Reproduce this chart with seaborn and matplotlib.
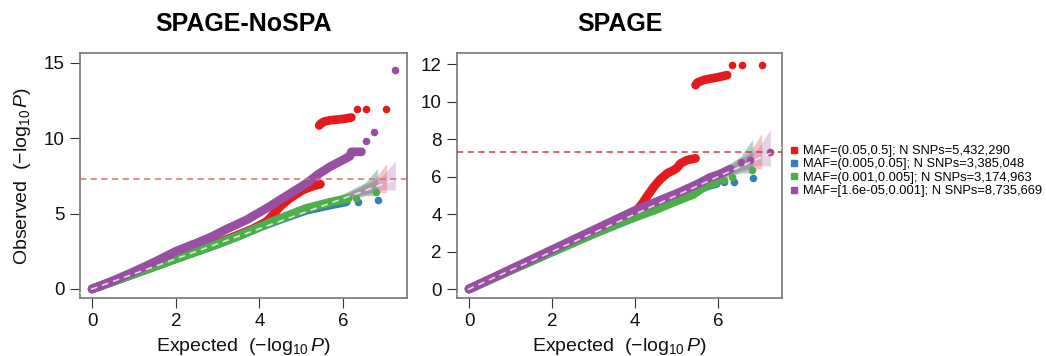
import matplotlib
matplotlib.use('Agg')
import matplotlib.pyplot as plt
from matplotlib.lines import Line2D
import pandas as pd
import seaborn as sns

# legend labels and colours (R Set1 style)
groups = ['MAF=(0.05,0.5]; N SNPs=5,432,290',
          'MAF=(0.005,0.05]; N SNPs=3,385,048',
          'MAF=(0.001,0.005]; N SNPs=3,174,963',
          'MAF=[1.6e-05,0.001]; N SNPs=8,735,669']
colors = ['#E41A1C', '#377EB8', '#4DAF4A', '#984EA3']
titles = ['SPAGE-NoSPA', 'SPAGE']
gw_line = 7.3  # -log10(5e-8)

# ---- SPAGE-NoSPA : dense part of the QQ curves (expected, observed)
nospa_red_x = [0, 1, 2, 3, 3.5, 3.85, 4.17, 4.35, 4.49, 4.73, 5.04, 5.25, 5.46]
nospa_red_y = [0, 1.0, 2.02, 3.05, 3.6, 4.0, 4.47, 5.0, 5.46, 6.02, 6.57, 6.8, 6.95]
nospa_red2_x = [5.43, 5.48, 5.56, 5.7, 5.9, 6.05, 6.2]
nospa_red2_y = [10.85, 11.0, 11.12, 11.2, 11.25, 11.3, 11.38]
nospa_blue_x = [0, 1, 2, 3, 3.53, 4, 4.5, 5.12, 5.5, 5.84, 6.08]
nospa_blue_y = [0, 1.0, 2.0, 2.98, 3.55, 4.1, 4.62, 5.22, 5.45, 5.65, 5.78]
nospa_green_x = [0, 1, 2, 3, 3.53, 4.33, 5.12, 5.68, 6.12]
nospa_green_y = [0, 1.0, 2.0, 2.98, 3.55, 4.5, 5.35, 5.75, 6.0]
nospa_purple_x = [0, 0.5, 1, 1.5, 2, 2.5, 2.86, 3.2, 3.69, 4.2, 4.6, 5.12, 5.4, 5.68, 5.92, 6.16, 6.2, 6.44]
nospa_purple_y = [0, 0.55, 1.15, 1.8, 2.5, 3.05, 3.47, 3.95, 4.58, 5.4, 6.1, 7.0, 7.6, 8.1, 8.45, 8.8, 9.1, 9.1]
# sparse tail points
nospa_red_dots_x = [6.33, 6.56, 7.03]
nospa_red_dots_y = [11.92, 11.92, 11.92]
nospa_blue_dots_x = [6.36, 6.83]
nospa_blue_dots_y = [5.75, 5.9]
nospa_green_dots_x = [6.32, 6.79]
nospa_green_dots_y = [6.05, 6.42]
nospa_purple_dots_x = [6.54, 6.75, 7.24]
nospa_purple_dots_y = [9.85, 10.4, 14.5]

# ---- SPAGE
spage_red_x = [0, 1, 2, 3, 4.0, 4.17, 4.3, 4.45, 4.6, 4.77, 4.93, 5.0, 5.09, 5.25, 5.45]
spage_red_y = [0, 1.02, 2.05, 3.05, 4.1, 4.57, 5.0, 5.46, 5.85, 6.17, 6.35, 6.45, 6.7, 6.88, 6.97]
spage_red2_x = [5.45, 5.5, 5.65, 5.8, 6.0, 6.21]
spage_red2_y = [10.88, 11.02, 11.15, 11.22, 11.3, 11.41]
spage_blue_x = [0, 1, 2, 3, 4, 5, 5.5, 5.81, 5.95]
spage_blue_y = [0, 1.0, 1.98, 2.95, 3.85, 4.75, 5.3, 5.55, 5.62]
spage_green_x = [0, 1, 2, 3, 3.7, 4.45, 5.0, 5.4, 5.65, 5.97]
spage_green_y = [0, 1.0, 1.98, 2.95, 3.6, 4.2, 4.7, 5.05, 5.45, 5.72]
spage_purple_x = [0, 1, 2, 3, 4, 4.5, 5, 5.5, 5.8, 6.0, 6.29]
spage_purple_y = [0, 1.05, 2.1, 3.15, 4.2, 4.65, 5.1, 5.6, 5.95, 6.1, 6.4]
spage_red_dots_x = [6.33, 6.57, 7.05]
spage_red_dots_y = [11.95, 11.95, 11.95]
spage_blue_dots_x = [6.13, 6.37, 6.83]
spage_blue_dots_y = [5.72, 5.72, 5.9]
spage_green_dots_x = [6.13, 6.33, 6.81]
spage_green_dots_y = [5.81, 5.99, 6.35]
spage_purple_dots_x = [6.54, 6.77, 7.23]
spage_purple_dots_y = [6.79, 6.88, 7.29]

# ---- 95% bands of the expected order statistics (same in both panels)
band_red_x = [4.3, 4.8, 5.3, 5.8, 6.3, 6.75, 7.04]
band_red_lo = [4.3, 4.77, 5.24, 5.7, 6.1, 6.4, 6.4]
band_red_hi = [4.3, 4.85, 5.4, 6.0, 6.65, 7.3, 8.3]
band_blue_x = [4.1, 4.6, 5.1, 5.6, 6.1, 6.55, 6.83]
band_blue_lo = [4.1, 4.57, 5.04, 5.5, 5.9, 6.2, 6.2]
band_blue_hi = [4.1, 4.65, 5.2, 5.8, 6.45, 7.1, 8.0]
band_green_x = [4.1, 4.6, 5.1, 5.6, 6.1, 6.53, 6.81]
band_green_lo = [4.1, 4.57, 5.04, 5.5, 5.9, 6.18, 6.2]
band_green_hi = [4.1, 4.65, 5.2, 5.8, 6.45, 7.05, 7.95]
band_purple_x = [4.5, 5.0, 5.5, 6.0, 6.5, 6.95, 7.25]
band_purple_lo = [4.5, 4.97, 5.44, 5.9, 6.3, 6.6, 6.55]
band_purple_hi = [4.5, 5.05, 5.6, 6.2, 6.85, 7.5, 8.5]


def long_table(rows):
    frames = []
    for panel, grp, seg, xs, ys in rows:
        frames.append(pd.DataFrame({'panel': panel, 'group': grp, 'seg': seg, 'x': xs, 'y': ys}))
    return pd.concat(frames, ignore_index=True)


curves = long_table([
    (0, 0, 'a', nospa_red_x, nospa_red_y), (0, 0, 'b', nospa_red2_x, nospa_red2_y),
    (0, 1, 'a', nospa_blue_x, nospa_blue_y), (0, 2, 'a', nospa_green_x, nospa_green_y),
    (0, 3, 'a', nospa_purple_x, nospa_purple_y),
    (1, 0, 'a', spage_red_x, spage_red_y), (1, 0, 'b', spage_red2_x, spage_red2_y),
    (1, 1, 'a', spage_blue_x, spage_blue_y), (1, 2, 'a', spage_green_x, spage_green_y),
    (1, 3, 'a', spage_purple_x, spage_purple_y),
])
dots = long_table([
    (0, 0, 'd', nospa_red_dots_x, nospa_red_dots_y), (0, 1, 'd', nospa_blue_dots_x, nospa_blue_dots_y),
    (0, 2, 'd', nospa_green_dots_x, nospa_green_dots_y), (0, 3, 'd', nospa_purple_dots_x, nospa_purple_dots_y),
    (1, 0, 'd', spage_red_dots_x, spage_red_dots_y), (1, 1, 'd', spage_blue_dots_x, spage_blue_dots_y),
    (1, 2, 'd', spage_green_dots_x, spage_green_dots_y), (1, 3, 'd', spage_purple_dots_x, spage_purple_dots_y),
])
bands = [(band_red_x, band_red_lo, band_red_hi), (band_blue_x, band_blue_lo, band_blue_hi),
         (band_green_x, band_green_lo, band_green_hi), (band_purple_x, band_purple_lo, band_purple_hi)]

sns.set_theme(style='white')
plt.rcParams['font.family'] = ['Liberation Sans', 'DejaVu Sans']
plt.rcParams['mathtext.fontset'] = 'custom'
plt.rcParams['mathtext.rm'] = 'Liberation Sans'
plt.rcParams['mathtext.it'] = 'Liberation Sans:italic'
plt.rcParams['text.color'] = 'black'
plt.rcParams['axes.labelcolor'] = 'black'

fig = plt.figure(figsize=(10.46, 3.56), dpi=100)
axes = [fig.add_axes([80 / 1046, 58 / 356, 327 / 1046, 245 / 356]),
        fig.add_axes([457 / 1046, 58 / 356, 325 / 1046, 245 / 356])]
ylims = [(-0.6, 15.66), (-0.48, 12.59)]
yticks = [[0, 5, 10, 15], [0, 2, 4, 6, 8, 10, 12]]
gw_colors = ['#E8676C', '#D8353C']

for p, ax in enumerate(axes):
    for g, (bx, lo, hi) in enumerate(bands):
        ax.fill_between(bx, lo, hi, color=colors[g], alpha=0.25, lw=0, zorder=1)
    for g in range(4):
        sub = curves[(curves.panel == p) & (curves.group == g)]
        for seg, part in sub.groupby('seg'):
            sns.lineplot(data=part, x='x', y='y', sort=False, estimator=None, ax=ax,
                         color=colors[g], lw=6.3, solid_capstyle='round',
                         solid_joinstyle='round', zorder=2 + g)
        dsub = dots[(dots.panel == p) & (dots.group == g)]
        sns.scatterplot(data=dsub, x='x', y='y', ax=ax, color=colors[g], s=30,
                        linewidth=0, zorder=2 + g)
    ax.axline((0, 0), (1, 1), color='white', lw=1.2, alpha=0.75, ls=(0, (4, 3)), zorder=8)
    ax.axhline(gw_line, color=gw_colors[p], lw=1.1, ls=(0, (4, 3)), zorder=9)

    ax.set_xlim(-0.29, 7.53)
    ax.set_ylim(*ylims[p])
    ax.set_xticks([0, 2, 4, 6])
    ax.set_yticks(yticks[p])
    ax.tick_params(axis='both', which='both', direction='out', length=7, width=0.8,
                   color='#333333', labelsize=13.5, pad=4, left=True, bottom=True,
                   labelcolor='#111111')
    for sp in ax.spines.values():
        sp.set_color('#777777')
        sp.set_linewidth(1.2)
    ax.set_xlabel(r'Expected  $(-\log_{10}P)$', fontsize=14, labelpad=4, color='#111111')
    ax.set_ylabel(r'Observed  $(-\log_{10}P)$' if p == 0 else '', fontsize=14,
                  labelpad=8, color='#111111')
    ax.set_title(titles[p], fontsize=18, fontweight='bold', pad=16, color='black')

handles = [Line2D([], [], marker='s', ls='', color=c, markersize=4) for c in colors]
fig.legend(handles, groups, loc='upper left', bbox_to_anchor=(789 / 1046, 1 - 145 / 356),
           frameon=False, fontsize=9.3, handlelength=0.75, handletextpad=0.35,
           labelspacing=0.1, borderpad=0, borderaxespad=0)

fig.savefig('out.png', dpi=100)
